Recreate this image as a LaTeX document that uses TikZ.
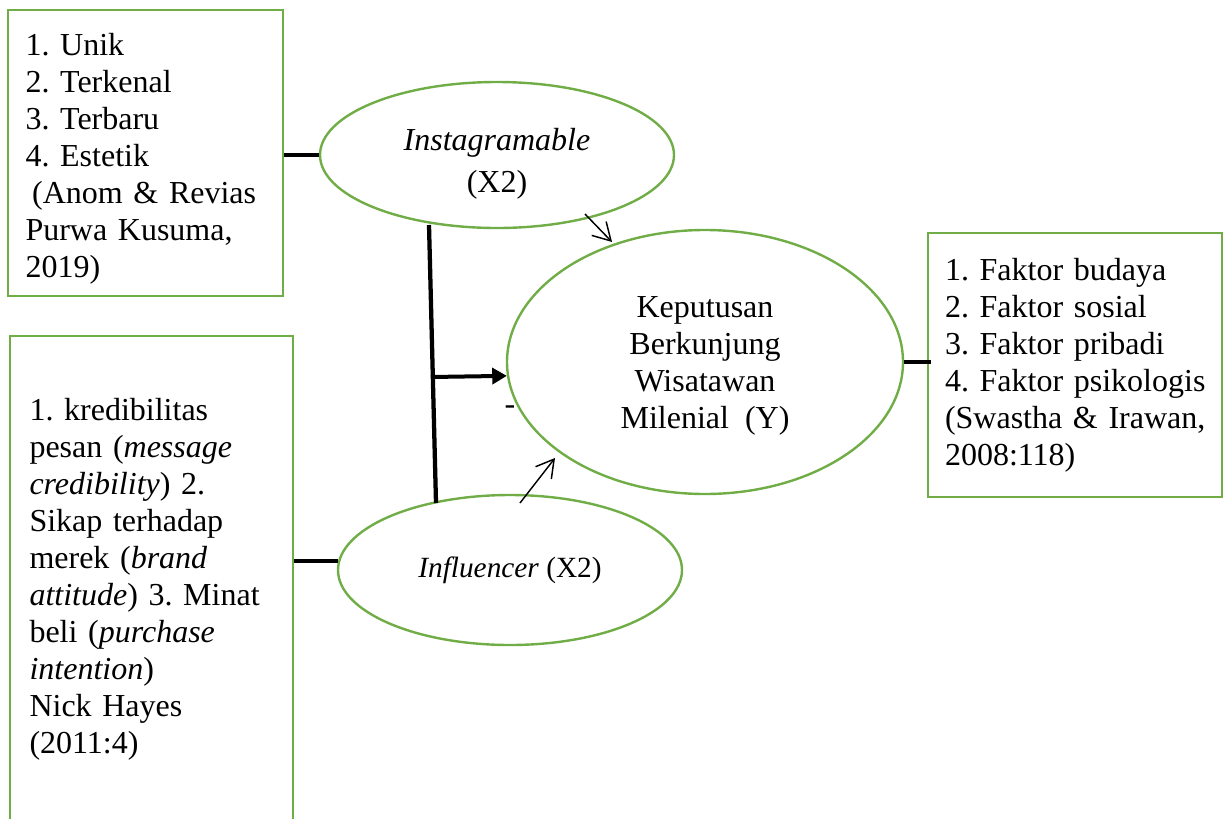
\documentclass[tikz,border=0pt]{standalone}
\usepackage{fontspec}
\setmainfont{Liberation Serif}
\usetikzlibrary{shapes.geometric,arrows.meta}
\definecolor{boxgreen}{HTML}{70AD47}
\frenchspacing
\hyphenpenalty=10000
\begin{document}
\begin{tikzpicture}[x=0.75pt,y=-0.75pt,
  txt/.style={font=\fontsize{24}{27.75}\selectfont},
  box/.style={draw=boxgreen, line width=1.6pt, rectangle, align=left, inner ysep=0pt, txt},
  oval/.style={draw=boxgreen, line width=1.8pt, ellipse, inner sep=0pt, align=center, txt},
  link/.style={line width=3pt},
  thinarrow/.style={line width=1.1pt, -{Straight Barb[length=13pt,width=15pt]}}]
\useasboundingbox (0,0) rectangle (1224,818);
% boxes
\node[box, minimum width=206.25pt, minimum height=214.5pt, text width=180pt, inner xsep=13pt] (b1) at (145.5,153)
  {\rule{0pt}{26pt}1. Unik\\2. Terkenal\\3. Terbaru\\4. Estetik\\\mbox{\hspace*{5pt}(Anom \& Revias}\\\mbox{Purwa Kusuma,}\\2019)};
\node[box, minimum width=212.25pt, minimum height=364.5pt, text width=183pt, inner xsep=14.6pt] (b2) at (151.5,579)
  {1. kredibilitas\\\mbox{pesan (\textit{message}}\\\mbox{\textit{credibility}) 2.}\\\mbox{Sikap terhadap}\\\mbox{merek (\textit{brand}}\\\mbox{\textit{attitude}) 3. Minat}\\\mbox{beli (\textit{purchase}}\\\textit{intention})\\Nick Hayes\\(2011:4)};
\node[box, minimum width=220.5pt, minimum height=198pt, text width=195pt, inner xsep=12.75pt] (b3) at (1075,365)
  {\mbox{1. Faktor budaya}\\\mbox{2. Faktor sosial}\\\mbox{3. Faktor pribadi}\\\mbox{4. Faktor psikologis}\\\mbox{(Swastha \& Irawan,}\\2008:118)};
% ellipses
\node[oval, minimum width=265.5pt, minimum height=109.5pt] (ins) at (497,155) {\rule{0pt}{30pt}\textit{Instagramable}\\[4pt](X2)};
\node[oval, minimum width=297pt, minimum height=198pt] (Y) at (705,362) {\rule{0pt}{22pt}Keputusan\\Berkunjung\\Wisatawan\\Milenial\ \ (Y)};
\node[oval, minimum width=258pt, minimum height=112.5pt, font=\fontsize{22}{26}\selectfont] (inf) at (510,570) {\textit{Influencer} (X2)};
\node[txt, inner sep=0pt] (minus) at (510,410) {-};
% coordinates
\coordinate (vt) at (429,225);
\coordinate (vb) at (436,503);
\coordinate (ha) at (431,377);
\coordinate (a1s) at (520,503);
\coordinate (a1e) at (555,458);
\coordinate (a2s) at (585,214);
\coordinate (a2e) at (612,242);
% connectors
\draw[link] (b1.east |- ins.west) -- (ins.west);
\draw[link] (b2.east |- inf.177) -- (inf.177);
\draw[link] (Y.east) -- ([xshift=3pt]b3.west |- Y.east);
\draw[line width=3.2pt] (vt) -- (vb);
\draw[link, -{Triangle[length=11pt,width=12pt]}] (ha) -- (Y.184);
\draw[thinarrow] (a1s) -- (a1e);
\draw[thinarrow] (a2s) -- (a2e);
\end{tikzpicture}
\end{document}
